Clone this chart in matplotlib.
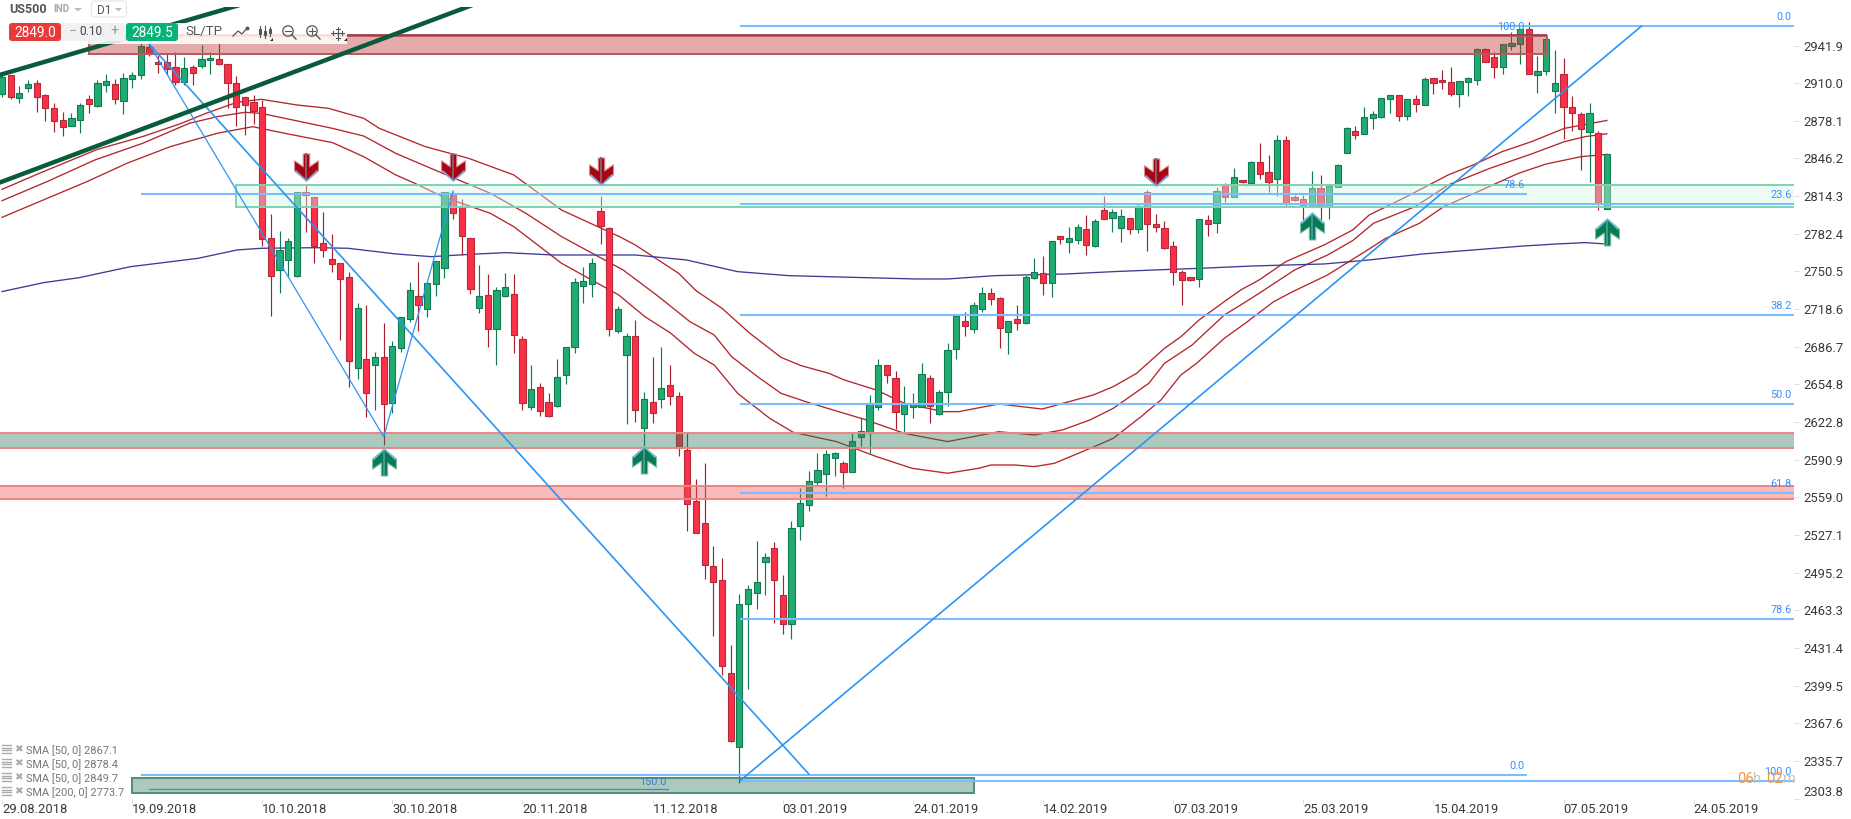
import matplotlib
matplotlib.use('Agg')
import matplotlib.pyplot as plt
from matplotlib.patches import Rectangle, FancyBboxPatch, Circle, Polygon
from matplotlib.path import Path

plt.rcParams['font.family'] = ['Roboto', 'DejaVu Sans']

# свечи: индекс в списке = номер бара
opens = [2901.1, 2916.9, 2897.7, 2906.2, 2909.9, 2899.7, 2888.7, 2878.5, 2874.0, 2879.1,
         2896.3, 2890.9, 2908.7, 2909.0, 2895.2, 2913.2, 2916.6, 2940.3, 2927.6, 2927.6,
         2923.4, 2911.3, 2923.4, 2924.8, 2929.3, 2930.2, 2925.9, 2909.9, 2898.0, 2894.0,
         2890.1, 2778.5, 2751.7, 2759.9, 2746.9, 2817.5, 2813.3, 2774.9, 2760.7, 2757.4,
         2745.5, 2668.4, 2676.0, 2671.5, 2677.7, 2638.8, 2685.9, 2710.5, 2729.7, 2718.9,
         2739.6, 2753.7, 2816.7, 2804.8, 2778.5, 2719.8, 2730.5, 2701.5, 2729.4, 2731.1,
         2692.9, 2635.4, 2652.3, 2639.6, 2636.8, 2662.8, 2686.8, 2738.4, 2739.6, 2801.4,
         2787.0, 2700.3, 2680.0, 2695.5, 2617.6, 2639.6, 2642.1, 2654.0, 2644.7, 2598.9,
         2555.7, 2537.1, 2500.7, 2488.8, 2410.0, 2347.3, 2469.0, 2477.8, 2504.0, 2515.9,
         2476.1, 2451.5, 2534.5, 2552.3, 2571.8, 2579.2, 2592.1, 2587.9, 2580.3, 2610.0,
         2613.3, 2635.4, 2670.9, 2659.9, 2630.0, 2635.9, 2635.9, 2659.9, 2630.0, 2648.6,
         2685.0, 2708.2, 2702.0, 2718.9, 2732.0, 2727.7, 2699.4, 2709.9, 2707.1, 2745.2,
         2748.9, 2740.4, 2780.5, 2775.7, 2776.8, 2786.2, 2772.3, 2802.2, 2795.5, 2787.6,
         2795.5, 2786.2, 2817.5, 2790.4, 2787.0, 2771.8, 2749.7, 2745.5, 2744.4, 2793.8,
         2791.3, 2823.4, 2813.8, 2827.7, 2825.7, 2842.9, 2834.4, 2828.5, 2861.6, 2813.3,
         2811.6, 2805.4, 2820.9, 2805.4, 2821.7, 2851.1, 2869.5, 2867.2, 2880.8, 2881.3,
         2896.9, 2899.7, 2882.5, 2896.3, 2891.2, 2914.1, 2912.7, 2910.7, 2901.1, 2910.7,
         2912.4, 2938.7, 2931.9, 2924.0, 2941.2, 2942.9, 2955.6, 2917.2, 2920.6, 2903.6,
         2917.5, 2889.5, 2883.6, 2868.9, 2867.5, 2803.1]
closes = [2914.9, 2898.6, 2901.9, 2909.0, 2898.6, 2889.2, 2878.2, 2873.1, 2880.2, 2891.5,
          2892.6, 2910.4, 2911.5, 2896.3, 2914.1, 2917.2, 2941.2, 2934.4, 2925.9, 2921.7,
          2911.3, 2922.6, 2918.9, 2930.2, 2931.0, 2926.5, 2910.4, 2889.5, 2891.8, 2886.7,
          2777.7, 2746.9, 2768.9, 2776.0, 2817.5, 2815.5, 2772.3, 2768.9, 2756.5, 2743.8,
          2674.3, 2719.2, 2647.2, 2677.7, 2638.2, 2687.0, 2711.6, 2734.8, 2722.3, 2740.4,
          2759.3, 2817.5, 2800.3, 2780.8, 2735.9, 2729.4, 2701.5, 2734.5, 2737.0, 2696.9,
          2638.8, 2650.6, 2632.5, 2628.0, 2661.3, 2686.8, 2741.8, 2742.7, 2757.4, 2789.3,
          2701.5, 2718.4, 2695.5, 2633.4, 2642.1, 2630.8, 2651.5, 2644.7, 2600.6, 2553.2,
          2528.6, 2502.1, 2487.1, 2415.9, 2352.9, 2468.5, 2481.2, 2487.1, 2508.3, 2488.8,
          2451.5, 2532.8, 2554.0, 2572.7, 2582.0, 2595.6, 2596.4, 2580.8, 2606.6, 2615.0,
          2638.8, 2670.9, 2663.0, 2631.7, 2638.2, 2638.2, 2663.3, 2636.8, 2648.1, 2683.6,
          2712.4, 2704.3, 2721.8, 2732.0, 2727.4, 2702.9, 2708.2, 2707.1, 2745.8, 2749.7,
          2741.0, 2776.0, 2778.2, 2778.5, 2787.9, 2773.2, 2792.9, 2795.2, 2800.6, 2797.2,
          2786.7, 2805.6, 2791.0, 2788.4, 2770.6, 2749.7, 2743.0, 2743.2, 2794.6, 2791.0,
          2818.6, 2813.8, 2830.2, 2826.0, 2842.9, 2833.3, 2826.0, 2861.6, 2807.6, 2810.7,
          2806.2, 2820.9, 2805.4, 2822.9, 2840.7, 2871.7, 2866.4, 2881.0, 2883.6, 2897.1,
          2899.7, 2881.9, 2896.3, 2892.6, 2913.2, 2910.4, 2910.7, 2901.1, 2911.5, 2914.1,
          2938.7, 2928.2, 2923.4, 2942.9, 2943.7, 2955.9, 2917.5, 2920.0, 2947.1, 2909.9,
          2890.1, 2885.0, 2871.5, 2884.4, 2808.2, 2849.7]
highs = [2916.9, 2916.9, 2907.6, 2912.7, 2912.7, 2900.8, 2892.9, 2885.3, 2884.4, 2892.9,
         2900.0, 2912.7, 2917.8, 2913.2, 2918.3, 2919.2, 2943.7, 2943.7, 2933.9, 2935.3,
         2936.4, 2931.9, 2925.4, 2942.3, 2936.7, 2943.7, 2925.9, 2916.0, 2898.0, 2900.0,
         2895.7, 2799.1, 2784.7, 2778.8, 2817.5, 2824.3, 2813.3, 2800.8, 2782.2, 2757.4,
         2750.0, 2724.0, 2722.0, 2682.5, 2707.1, 2691.8, 2711.6, 2741.8, 2758.2, 2740.4,
         2759.3, 2817.5, 2818.1, 2811.6, 2778.5, 2755.6, 2748.3, 2737.6, 2748.9, 2748.3,
         2695.8, 2671.2, 2655.7, 2647.8, 2676.0, 2686.8, 2744.6, 2754.5, 2762.2, 2814.4,
         2788.4, 2721.2, 2698.0, 2709.4, 2648.1, 2678.0, 2686.5, 2671.2, 2648.1, 2613.3,
         2574.6, 2588.5, 2517.9, 2507.5, 2434.0, 2476.9, 2484.8, 2522.1, 2511.7, 2521.0,
         2493.3, 2539.1, 2566.7, 2581.4, 2596.4, 2599.2, 2597.8, 2589.9, 2613.3, 2626.0,
         2645.8, 2676.0, 2670.9, 2666.1, 2653.4, 2647.2, 2672.6, 2662.5, 2650.0, 2689.6,
         2712.4, 2716.1, 2724.6, 2737.0, 2736.2, 2729.1, 2708.2, 2722.0, 2747.5, 2761.6,
         2763.6, 2776.0, 2780.5, 2788.1, 2790.4, 2798.0, 2794.9, 2814.4, 2803.4, 2803.4,
         2795.5, 2808.2, 2819.5, 2799.1, 2793.2, 2776.3, 2751.7, 2746.1, 2794.6, 2798.3,
         2821.7, 2825.1, 2837.8, 2827.7, 2844.1, 2859.0, 2849.1, 2866.1, 2865.2, 2815.2,
         2815.2, 2835.6, 2832.2, 2824.3, 2841.2, 2873.1, 2873.7, 2890.1, 2886.4, 2897.1,
         2900.3, 2899.7, 2896.3, 2900.0, 2915.5, 2914.1, 2921.2, 2924.0, 2911.5, 2914.9,
         2939.5, 2939.5, 2936.1, 2942.9, 2953.1, 2956.4, 2962.1, 2933.0, 2947.1, 2938.1,
         2931.0, 2899.1, 2885.3, 2892.9, 2869.5, 2849.7]
lows = [2898.6, 2896.3, 2892.9, 2902.8, 2885.9, 2878.2, 2868.3, 2865.5, 2873.7, 2868.0,
        2885.0, 2890.1, 2902.5, 2892.3, 2884.2, 2906.2, 2913.5, 2933.0, 2918.9, 2917.8,
        2908.4, 2908.4, 2908.4, 2923.1, 2917.8, 2925.4, 2888.7, 2873.7, 2866.4, 2875.4,
        2772.3, 2713.0, 2732.5, 2746.1, 2746.1, 2783.6, 2757.4, 2763.0, 2750.3, 2692.4,
        2652.9, 2659.4, 2627.4, 2633.1, 2603.2, 2630.3, 2682.5, 2707.9, 2700.0, 2712.2,
        2729.7, 2745.2, 2794.9, 2764.4, 2731.4, 2715.6, 2686.8, 2671.2, 2729.1, 2681.7,
        2633.1, 2633.1, 2628.0, 2626.9, 2635.4, 2655.1, 2681.7, 2724.0, 2729.1, 2773.7,
        2696.1, 2698.0, 2621.2, 2623.2, 2602.0, 2621.8, 2634.5, 2637.3, 2594.4, 2530.9,
        2528.6, 2489.9, 2441.9, 2408.6, 2352.1, 2316.8, 2397.0, 2464.5, 2476.4, 2452.9,
        2443.3, 2438.8, 2523.0, 2547.5, 2568.7, 2560.5, 2577.2, 2567.3, 2580.3, 2602.9,
        2596.9, 2633.1, 2656.3, 2617.0, 2613.3, 2626.6, 2635.9, 2622.4, 2628.9, 2636.8,
        2676.3, 2696.1, 2698.0, 2716.4, 2722.0, 2685.9, 2680.5, 2700.9, 2706.0, 2744.1,
        2730.5, 2729.1, 2773.7, 2766.4, 2773.7, 2764.4, 2771.5, 2795.2, 2784.2, 2775.7,
        2782.2, 2783.3, 2768.1, 2784.2, 2769.2, 2739.0, 2722.0, 2742.7, 2737.6, 2780.8,
        2783.3, 2809.0, 2813.8, 2825.4, 2824.6, 2829.1, 2818.1, 2814.7, 2805.4, 2809.9,
        2792.6, 2805.4, 2794.0, 2794.9, 2821.7, 2850.5, 2863.0, 2866.7, 2871.2, 2880.8,
        2884.4, 2877.9, 2878.8, 2885.3, 2891.2, 2900.8, 2904.8, 2899.1, 2890.1, 2899.1,
        2908.4, 2927.6, 2914.4, 2917.8, 2938.1, 2926.2, 2917.5, 2901.9, 2917.2, 2884.4,
        2862.7, 2869.8, 2836.4, 2826.6, 2802.5, 2803.1]

# скользящие средние (бар, цена)
sma_upper_x = [0, 4.3, 11, 16.2, 20.7, 23.5, 27.1, 29.9, 34, 37.6, 41.7, 43.5, 48.8, 53.8, 59, 64.5, 71.2,
               73, 78, 80, 83, 86.2, 89.8, 92.1, 95.3, 97.1, 100.8, 104, 108.5, 110.3, 114.9, 119.9, 125.8,
               128.1, 130.8, 134, 135.9, 138, 140.9, 142.8, 144.9, 148, 152.4, 155.7, 157.6, 161.9, 166.7,
               169.6, 172.9, 176.3, 180.1, 185]
sma_upper_y = [2820.0, 2833.6, 2853.9, 2864.7, 2876.0, 2884.4, 2893.8, 2896.3, 2891.5, 2888.7, 2880.2, 2871.7,
               2856.2, 2846.3, 2832.2, 2802.5, 2779.9, 2772.9, 2748.9, 2734.2, 2719.2, 2698.1, 2677.7, 2670.7,
               2664.2, 2658.5, 2650.0, 2638.8, 2631.7, 2631.7, 2638.2, 2633.9, 2645.8, 2652.9, 2664.2, 2685.3,
               2695.2, 2709.4, 2724.9, 2734.8, 2743.2, 2758.8, 2772.9, 2785.6, 2798.3, 2813.8, 2832.2, 2840.7,
               2851.9, 2860.4, 2871.7, 2878.4]
sma_mid_x = [0, 5.2, 10.7, 16.2, 21.6, 24.8, 28, 29.9, 32.6, 38.1, 41.7, 45.4, 50.8, 56.3, 60.4, 64.5,
             71.6, 75.7, 79.3, 82.1, 84.1, 87.1, 89.8, 93, 96.7, 99.4, 104, 109, 114.9, 119, 122.2, 125.4,
             128.1, 132.2, 134, 137.2, 140.9, 142.8, 144.9, 149, 152.8, 155.7, 158.1, 162.9, 166.7, 171.5,
             176.3, 180.1, 182.5, 185]
sma_mid_y = [2810.4, 2826.6, 2844.9, 2859.0, 2876.0, 2881.6, 2885.3, 2884.4, 2880.2, 2871.7, 2865.2, 2850.5,
             2833.6, 2816.7, 2799.7, 2780.0, 2751.7, 2729.1, 2707.9, 2696.6, 2678.3, 2661.3, 2647.2, 2639.3,
             2631.1, 2625.2, 2613.3, 2606.3, 2614.7, 2611.9, 2616.1, 2624.6, 2634.5, 2655.7, 2672.6, 2688.2,
             2713.6, 2722.1, 2731.9, 2751.7, 2764.4, 2776.6, 2791.3, 2805.4, 2823.7, 2837.8, 2850.0, 2860.4,
             2864.7, 2867.1]
sma_low_x = [0, 4.3, 9.8, 14.4, 19.4, 24.8, 28.9, 32.6, 38.1, 41.7, 45.4, 47.6, 50.8, 56.3, 59, 64.5,
             71.1, 74.1, 77.1, 79.8, 82.1, 84.8, 88.5, 91.2, 96.2, 100.8, 104.9, 109, 112.6, 114, 116.7,
             119, 121.3, 125.9, 128.1, 131.3, 133.6, 135.9, 137.7, 140.9, 143.3, 146.6, 148.8, 152.8, 157.1,
             159.5, 163.4, 166.2, 171, 174.8, 178, 182, 185]
sma_low_y = [2796.3, 2809.6, 2826.6, 2842.1, 2856.2, 2867.5, 2873.1, 2867.5, 2859.6, 2847.7, 2832.2, 2825.1,
             2813.8, 2799.7, 2788.4, 2757.4, 2730.5, 2712.2, 2698.1, 2681.1, 2671.2, 2647.2, 2626.0, 2614.2,
             2606.3, 2593.6, 2583.7, 2579.5, 2583.7, 2586.5, 2586.5, 2585.1, 2587.9, 2602.0, 2609.1, 2627.4,
             2641.6, 2662.8, 2672.6, 2693.8, 2706.5, 2724.9, 2733.4, 2747.5, 2767.2, 2778.5, 2791.3, 2805.4,
             2820.9, 2833.6, 2841.5, 2847.7, 2849.7]
sma_200_x = [0, 4.8, 8.9, 14.8, 22.6, 27.1, 29.9, 36.2, 39.9, 45.4, 49.5, 54, 58.1, 63.6, 73, 78.9, 84.8,
             90.7, 98, 105.3, 109, 114.4, 122.6, 128.1, 134.9, 138, 144.2, 152.4, 157.6, 163.8, 170.5, 175.3,
             179.1, 182.5, 185]
sma_200_y = [2733.4, 2741.0, 2745.2, 2754.5, 2761.6, 2768.7, 2770.1, 2770.6, 2770.1, 2765.3, 2763.0, 2765.0,
             2766.4, 2764.4, 2764.4, 2760.2, 2750.3, 2746.9, 2745.5, 2744.1, 2744.1, 2746.9, 2748.3, 2750.3,
             2752.3, 2753.1, 2755.1, 2756.8, 2760.2, 2765.3, 2769.2, 2772.0, 2773.7, 2774.9, 2773.7]

# зоны: бар начала, бар конца, низ, верх
zone_x0 = [10.0, 27.0, -1, -1, 14.95]
zone_x1 = [178.1, 207, 207, 207, 112.0]
zone_lo = [2934.4, 2805.1, 2600.6, 2557.4, 2308.3]
zone_hi = [2950.2, 2823.7, 2613.3, 2569.0, 2321.6]
zone_fill = [(190/255, 47/255, 45/255, .4), (212/255, 247/255, 232/255, .4), (50/255, 120/255, 90/255, .4),
             (235/255, 85/255, 85/255, .4), (50/255, 120/255, 90/255, .4)]
zone_edge = ['#b85a5e', '#7dd3b2', '#ee8585', '#ee8585', '#4f8f78']

# уровни Фибоначчи
fib_a_levels = [2958.4, 2807.6, 2713.6, 2638.2, 2563.0, 2456.0, 2319.1]
fib_a_labels = ['0.0', '23.6', '38.2', '50.0', '61.8', '78.6', '100.0']
fib_b_levels = [2816.4, 2323.9]
fib_b_labels = ['78.6', '0.0']
fib_b_top = 2950.5

# наклонные линии (бар, цена)
trend_x = [85.1, 189]
trend_y = [2319.1, 2958.4]
down_x = [16.9, 93.0]
down_y = [2943.7, 2324.7]
zig_x = [16.9, 44, 52]
zig_y = [2943.7, 2610.5, 2818.6]
dark1_x = [-0.3, 28.6]
dark1_y = [2916.9, 2978.8]
dark2_x = [-0.3, 55.6]
dark2_y = [2825.7, 2980.0]

# стрелки
down_arrow_x = [35, 52, 69, 133]
down_arrow_y = [2839.2, 2838.7, 2835.9, 2834.7]
up_arrow_x = [44, 74, 151, 185]
up_arrow_y = [2589.0, 2590.7, 2789.3, 2783.9]

y_ticks = [2941.9, 2910.0, 2878.1, 2846.2, 2814.3, 2782.4, 2750.5, 2718.6, 2686.7, 2654.8, 2622.8,
           2590.9, 2559.0, 2527.1, 2495.2, 2463.3, 2431.4, 2399.5, 2367.6, 2335.7, 2303.8]
x_ticks = [0, 15, 30, 45, 60, 75, 90, 105, 120, 135, 150, 165, 180, 195]
x_labels = ['29.08.2018', '19.09.2018', '10.10.2018', '30.10.2018', '20.11.2018', '11.12.2018', '03.01.2019',
            '24.01.2019', '14.02.2019', '07.03.2019', '25.03.2019', '15.04.2019', '07.05.2019', '24.05.2019']
legend_rows = ['SMA [50, 0] 2867.1', 'SMA [50, 0] 2878.4', 'SMA [50, 0] 2849.7', 'SMA [200, 0] 2773.7']

W, H = 1851, 819
BOTTOM = 799
RIGHT = 1794
TOP = 7
fig = plt.figure(figsize=(W / 100, H / 100), dpi=100, facecolor='white')
ax = fig.add_axes([0, (H - BOTTOM) / H, RIGHT / W, (BOTTOM - TOP) / H])
ax.set_xlim(-0.23, 206.57)
ax.set_ylim(2980.45 - BOTTOM / 1.1803, 2980.45 - TOP / 1.1803)
for s in ax.spines.values():
    s.set_visible(False)

# 1. средние
for xs, ys in [(sma_upper_x, sma_upper_y), (sma_mid_x, sma_mid_y), (sma_low_x, sma_low_y)]:
    ax.plot(xs, ys, color='#b3262b', lw=0.95, zorder=2)
ax.plot(sma_200_x, sma_200_y, color='#3c3c96', lw=0.95, zorder=2)

# 2. свечи
for i in range(len(opens)):
    up = closes[i] >= opens[i]
    wick = '#117a50' if up else '#a5222f'
    ax.vlines(i, lows[i], highs[i], color=wick, lw=0.85, zorder=3)
    ax.bar(i, abs(closes[i] - opens[i]), bottom=min(opens[i], closes[i]), width=0.72,
           color='#22ab70' if up else '#fb3048', edgecolor='#127a52' if up else '#b32a3a',
           linewidth=0.8, zorder=3.1)

# 3. зоны
for j in range(len(zone_x0)):
    ax.add_patch(Rectangle((zone_x0[j], zone_lo[j]), zone_x1[j] - zone_x0[j], zone_hi[j] - zone_lo[j],
                           facecolor=zone_fill[j], edgecolor='none', zorder=4))
    ax.add_patch(Rectangle((zone_x0[j], zone_lo[j]), zone_x1[j] - zone_x0[j], zone_hi[j] - zone_lo[j],
                           facecolor='none', edgecolor=zone_edge[j], lw=1.4, zorder=4.1))

# 4. Фибоначчи
fib_blue = '#7cbcff'
txt_blue = '#3d8ef5'
for lv, lab in zip(fib_a_levels, fib_a_labels):
    ax.plot([85.1, 206.57], [lv, lv], color=fib_blue, lw=1.5, zorder=5, solid_capstyle='butt')
    ax.annotate(lab, (206.3, lv), xytext=(0, 6.3), textcoords='offset points', ha='right', va='center',
                fontsize=7.8, color=txt_blue, zorder=7)
for lv, lab in zip(fib_b_levels, fib_b_labels):
    ax.plot([16, 175.8], [lv, lv], color=fib_blue, lw=1.5, zorder=5, solid_capstyle='butt')
    ax.annotate(lab, (175.5, lv), xytext=(0, 6.3), textcoords='offset points', ha='right', va='center',
                fontsize=7.8, color=txt_blue, zorder=7)
ax.plot([10, 178.1], [fib_b_top, fib_b_top], color='#9c3f4d', lw=1.3, zorder=5, solid_capstyle='butt')
ax.annotate('100.0', (175.5, fib_b_top), xytext=(0, 6.3), textcoords='offset points', ha='right', va='center',
            fontsize=7.8, color=txt_blue, zorder=7)
ax.plot([17, 76.8], [2311.7, 2311.7], color='#3a8fd0', lw=0.9, zorder=5)
ax.annotate('150.0', (76.6, 2311.7), xytext=(0, 5.6), textcoords='offset points', ha='right', va='center',
            fontsize=7.8, color='#3a7fc8', zorder=7)

# 5. наклонные
ax.plot(trend_x, trend_y, color='#2b95f5', lw=1.2, zorder=5)
ax.plot(down_x, down_y, color='#2b95f5', lw=1.2, zorder=5)
ax.plot(zig_x, zig_y, color='#2b95f5', lw=0.9, zorder=5)
ax.plot(dark1_x, dark1_y, color='#0a5a3c', lw=3.2, zorder=5.5, solid_capstyle='butt')
ax.plot(dark2_x, dark2_y, color='#0a5a3c', lw=3.2, zorder=5.5, solid_capstyle='butt')

# 6. стрелки
arrow_down = Path([(.24, 1), (.24, .05), (.89, .5), (.89, -.25), (0, -1), (-.89, -.25), (-.89, .5), (-.24, .05),
                   (-.24, 1), (.24, 1)], closed=True)
arrow_up = Path([(x, -y) for x, y in arrow_down.vertices], closed=True)
chev_down = Path([(-.55, -.15), (0, -.68), (.55, -.15)])
chev_up = Path([(-.55, .15), (0, .68), (.55, .15)])
stem_down = Path([(0, .9), (0, -.3), (0, 1), (0, -1)])
stem_up = Path([(0, -.9), (0, .3), (0, -1), (0, 1)])
MS = 19.4
ax.plot(down_arrow_x, down_arrow_y, ls='none', marker=arrow_down, ms=MS, mfc='#a80412', mec='#d98a8f', mew=0.8, zorder=6)
ax.plot(down_arrow_x, down_arrow_y, ls='none', marker=stem_down, ms=MS, mfc='none', mec='#8a5a70', mew=1.4, zorder=6.1)
ax.plot(down_arrow_x, down_arrow_y, ls='none', marker=chev_down, ms=MS, mfc='none', mec='#74a8ea', mew=1.0, zorder=6.2)
ax.plot(up_arrow_x, up_arrow_y, ls='none', marker=arrow_up, ms=MS, mfc='#0a7a55', mec='#7fc0aa', mew=0.8, zorder=6)
ax.plot(up_arrow_x, up_arrow_y, ls='none', marker=stem_up, ms=MS, mfc='none', mec='#3f9a90', mew=1.4, zorder=6.1)
ax.plot(up_arrow_x, up_arrow_y, ls='none', marker=chev_up, ms=MS, mfc='none', mec='#74bfe0', mew=1.0, zorder=6.2)

# оси
ax.yaxis.tick_right()
ax.set_yticks(y_ticks)
ax.set_yticklabels(['%.1f' % t for t in y_ticks])
ax.set_xticks(x_ticks)
ax.set_xticklabels(x_labels, ha='left')
ax.tick_params(axis='y', length=3.6, width=0.7, color='#dddddd', labelsize=9.4, labelcolor='#333a40', pad=3)
ax.tick_params(axis='x', length=3.6, width=0.7, color='#dddddd', labelsize=9.4, labelcolor='#333a40', pad=-0.6)
ax.get_yticklabels()[-1].set_va('bottom')

# шапка, панель и подписи поверх графика
top = fig.add_axes([0, 0, 1, 1], zorder=10)
top.set_xlim(0, W)
top.set_ylim(H, 0)
top.axis('off')
top.patch.set_alpha(0)

top.add_patch(Rectangle((8, 23), 339, 21, facecolor='white', edgecolor='none', alpha=.85))
top.add_patch(FancyBboxPatch((9, 23), 116, 18, boxstyle='round,pad=0,rounding_size=3', facecolor='#f0f1f3', edgecolor='none'))
top.add_patch(FancyBboxPatch((9, 23), 52, 18, boxstyle='round,pad=0,rounding_size=3', facecolor='#e93a3a', edgecolor='none'))
top.add_patch(FancyBboxPatch((126, 23), 52, 18, boxstyle='round,pad=0,rounding_size=3', facecolor='#06b377', edgecolor='none'))
top.text(35, 33, '2849.0', color='white', fontsize=9.8, ha='center', va='center')
top.text(152, 33, '2849.5', color='white', fontsize=9.8, ha='center', va='center')
top.text(72.5, 31, '\u2212', color='#999999', fontsize=10, ha='center', va='center')
top.text(91, 31.5, '0.10', color='#444444', fontsize=8.6, ha='center', va='center')
top.text(114.5, 31, '+', color='#999999', fontsize=10.5, ha='center', va='center')
top.text(204, 32, 'SL/TP', color='#555555', fontsize=9.6, ha='center', va='center')
top.text(9, 9.5, 'US500', color='#555555', fontsize=9.0, fontweight='bold', ha='left', va='center')
top.text(53, 9.5, 'IND', color='#aaaaaa', fontsize=7, fontweight='bold', ha='left', va='center')
top.add_patch(Polygon([(74, 8), (82, 8), (78, 11.5)], facecolor='#bbbbbb', edgecolor='none'))
top.add_patch(FancyBboxPatch((91.5, 1), 35, 16, boxstyle='round,pad=0,rounding_size=3', facecolor='white', edgecolor='#e6e6e6', lw=0.8))
top.text(97, 10, 'D1', color='#555555', fontsize=8.6, ha='left', va='center')
top.add_patch(Polygon([(115, 8), (122, 8), (118.5, 11.5)], facecolor='#bbbbbb', edgecolor='none'))

# значки панели
icon = '#555555'
top.plot([233, 238, 242, 247], [36, 31, 34, 28], color=icon, lw=0.9)
top.plot([247], [28], marker='o', ms=1.8, color=icon)
for cx, a, b, c, d in [(260, 26, 29, 34, 37), (265, 26, 31, 35, 38), (270, 27, 29, 33, 36)]:
    top.plot([cx, cx], [a, d], color=icon, lw=0.8)
    top.add_patch(Rectangle((cx - 1.4, b), 2.8, c - b, facecolor='white', edgecolor=icon, lw=0.8))
for tx in (272, 346):
    top.add_patch(Polygon([(tx - 2.5, 41), (tx + 1, 41), (tx + 1, 38)], facecolor='#222222', edgecolor='none'))
for mx, plus in ((288, False), (312, True)):
    top.add_patch(Circle((mx, 31), 5.2, facecolor='none', edgecolor=icon, lw=0.9))
    top.plot([mx + 3.6, mx + 8], [34.6, 39], color=icon, lw=1.0)
    top.plot([mx - 2.6, mx + 2.6], [31, 31], color=icon, lw=0.8)
    if plus:
        top.plot([mx, mx], [28.4, 33.6], color=icon, lw=0.8)
top.plot([331, 344], [33, 33], color=icon, lw=0.8)
top.plot([337.5, 337.5], [26.5, 39.5], color=icon, lw=0.8)
for a, b in [((335.5, 28.5), (339.5, 28.5)), ((335.5, 37.5), (339.5, 37.5)), ((333, 31), (333, 35)), ((342, 31), (342, 35))]:
    top.plot([a[0], b[0]], [a[1], b[1]], color=icon, lw=0.8)

# легенда индикаторов
for row, y0 in zip(legend_rows, [750, 764, 778, 792]):
    top.text(26, y0 + 0.5, row, color='#777777', fontsize=7.95, ha='left', va='center')
    for dy in (-4, -1.5, 1, 3.5):
        top.plot([1.5, 10.5], [y0 - 1 + dy, y0 - 1 + dy], color='#aaaaaa', lw=1.0)
    top.text(18.5, y0 - 1, '\u2716', color='#aaaaaa', fontsize=7.5, ha='center', va='center', family=['DejaVu Sans'])

# таймер
top.text(1737, 779, '06', color='#f7933c', fontsize=10.6, ha='left', va='center')
top.text(1753, 779, 'h', color='#c4c4c4', fontsize=10.6, ha='left', va='center')
top.text(1766, 779, '02', color='#f7933c', fontsize=10.6, ha='left', va='center')
top.text(1782.5, 779, 'm', color='#c4c4c4', fontsize=10.6, ha='left', va='center')

fig.savefig('out.png', dpi=100)
